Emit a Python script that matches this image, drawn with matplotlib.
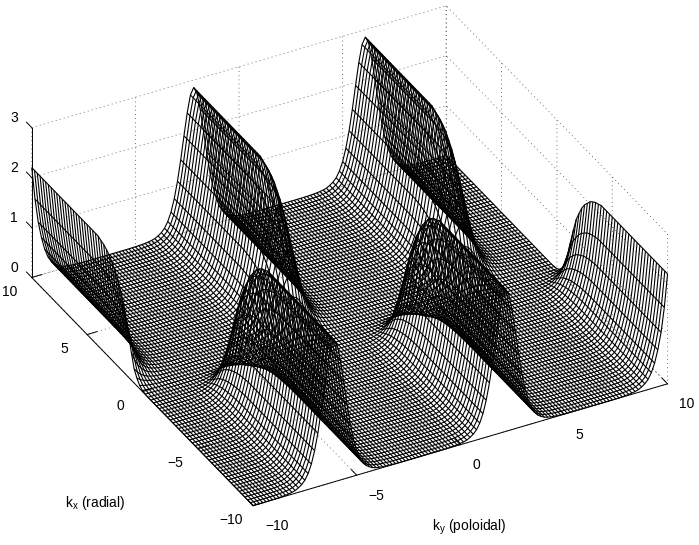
import numpy as np
import matplotlib
matplotlib.use('Agg')
import matplotlib.pyplot as plt

plt.rcParams['font.family'] = ['Liberation Sans', 'DejaVu Sans']
plt.rcParams['mathtext.fontset'] = 'custom'
plt.rcParams['mathtext.rm'] = 'Liberation Sans'
plt.rcParams['mathtext.default'] = 'regular'

# grid values
ky = [-10.0 + 0.15625 * i for i in range(129)]
kx = [-10.0 + 0.25 * i for i in range(81)]

# height across ky on the kx > 0 side
ridge_profile = [
    2.2, 1.55, 1.07, 0.74, 0.49, 0.32, 0.205, 0.135, 0.09, 0.055,
    0.037, 0.025, 0.017, 0.012, 0.008, 0.005, 0.004, 0.002, 0.002, 0.002,
    0.002, 0.002, 0.002, 0.002, 0.002, 0.002, 0.002, 0.002, 0.002, 0.002,
    0.002, 0.004, 0.005, 0.008, 0.012, 0.017, 0.025, 0.037, 0.055, 0.09,
    0.135, 0.205, 0.32, 0.49, 0.74, 1.07, 1.48, 1.94, 2.38, 2.72,
    2.85, 2.72, 2.38, 1.94, 1.48, 1.07, 0.74, 0.49, 0.32, 0.205,
    0.135, 0.09, 0.055, 0.037, 0.025, 0.017, 0.012, 0.008, 0.005, 0.004,
    0.002, 0.002, 0.002, 0.002, 0.002, 0.002, 0.002, 0.002, 0.002, 0.002,
    0.002, 0.002, 0.002, 0.002, 0.004, 0.005, 0.008, 0.012, 0.017, 0.025,
    0.037, 0.055, 0.09, 0.135, 0.205, 0.32, 0.49, 0.74, 1.07, 1.48,
    1.94, 2.38, 2.72, 2.85, 2.72, 2.38, 1.94, 1.48, 1.07, 0.74,
    0.49, 0.32, 0.205, 0.135, 0.09, 0.055, 0.037, 0.025, 0.017, 0.012,
    0.008, 0.005, 0.004, 0.002, 0.002, 0.002, 0.002, 0.002, 0.002,
]

# ridge strength along kx, -10 to 10
ridge_envelope = [
    0, 0, 0, 0, 0, 0, 0, 0, 0, 0,
    0, 0, 0, 0, 0, 0, 0, 0, 0, 0,
    0, 0, 0, 0, 0, 0, 0, 0, 0, 0,
    0, 0, 0, 0, 0, 0, 0, 0, 0, 0.004,
    0.01, 0.03, 0.07, 0.13, 0.25, 0.39, 0.52, 0.64, 0.72, 0.795,
    0.85, 0.89, 0.93, 0.955, 0.975, 0.985, 1, 1, 1, 1,
    1, 1, 1, 1, 1, 1, 1, 1, 1, 1,
    1, 1, 1, 1, 1, 1, 1, 1, 1, 1,
    1,
]

ky_ticks = [-10, -5, 0, 5, 10]
kx_ticks = [-10, -5, 0, 5, 10]
z_ticks = [0, 1, 2, 3]


def build_surface():
    profile = np.array(ridge_profile)
    envelope = np.array(ridge_envelope)
    # the kx < 0 half is the kx > 0 half turned by 180 degrees
    z = np.outer(envelope, profile) + np.outer(envelope[::-1], profile[::-1])
    x, y = np.meshgrid(ky, kx)
    return x, y, z


def style_axis(axis):
    axis.set_pane_color((1, 1, 1, 0))
    axis.pane.set_edgecolor((1, 1, 1, 0))
    axis.line.set_color('black')
    axis.line.set_linewidth(0.7)
    axis._axinfo['tick'].update({'inward_factor': 0.0, 'outward_factor': 0.3,
                                 'linewidth': {True: 0.7, False: 0.7}, 'color': 'black'})
    axis._axinfo['grid'].update({'color': '#444444', 'linewidth': 0.6, 'linestyle': (0, (1, 4))})


def main():
    x, y, z = build_surface()

    fig = plt.figure(figsize=(6.99, 5.45), dpi=100)
    ax = fig.add_axes([-7.2 / 699, 9.4 / 545, 1, 1], projection='3d', proj_type='ortho')
    ax.view_init(elev=33.4, azim=-118.1)
    ax.set_box_aspect((1, 1, 0.382), zoom=1.226)

    # the axes box is square, the mesh is wider than that
    wire = ax.plot_wireframe(x, y, z, rstride=1, cstride=1, color='black', linewidth=0.8)
    wire.set_clip_on(False)

    ax.set_xlim(-10, 10, view_margin=0)
    ax.set_ylim(-10, 10, view_margin=0)
    ax.set_zlim(0, 3, view_margin=0)
    ax.set_xticks(ky_ticks)
    ax.set_yticks(kx_ticks)
    ax.set_zticks(z_ticks)
    ax.tick_params(labelsize=10, pad=3)
    ax.tick_params(axis='z', pad=-2.3)
    for axis in (ax.xaxis, ax.yaxis, ax.zaxis):
        style_axis(axis)
    ax.zaxis.set_ticks_position('upper')
    # z ticks point along kx here, not along ky
    ax.zaxis._get_tickdir = lambda position: 1
    plt.setp(ax.get_xticklabels(), ha='left', va='center')
    plt.setp(ax.get_yticklabels(), va='center')
    plt.setp(ax.get_zticklabels(), va='bottom')

    fig.text(65 / 699, 1 - 503 / 545, r'k$_{x}$ (radial)', fontsize=10, va='center')
    fig.text(432 / 699, 1 - 527 / 545, r'k$_{y}$ (poloidal)', fontsize=10, va='center')

    fig.savefig('out.png', dpi=100)


if __name__ == "__main__":
    main()
